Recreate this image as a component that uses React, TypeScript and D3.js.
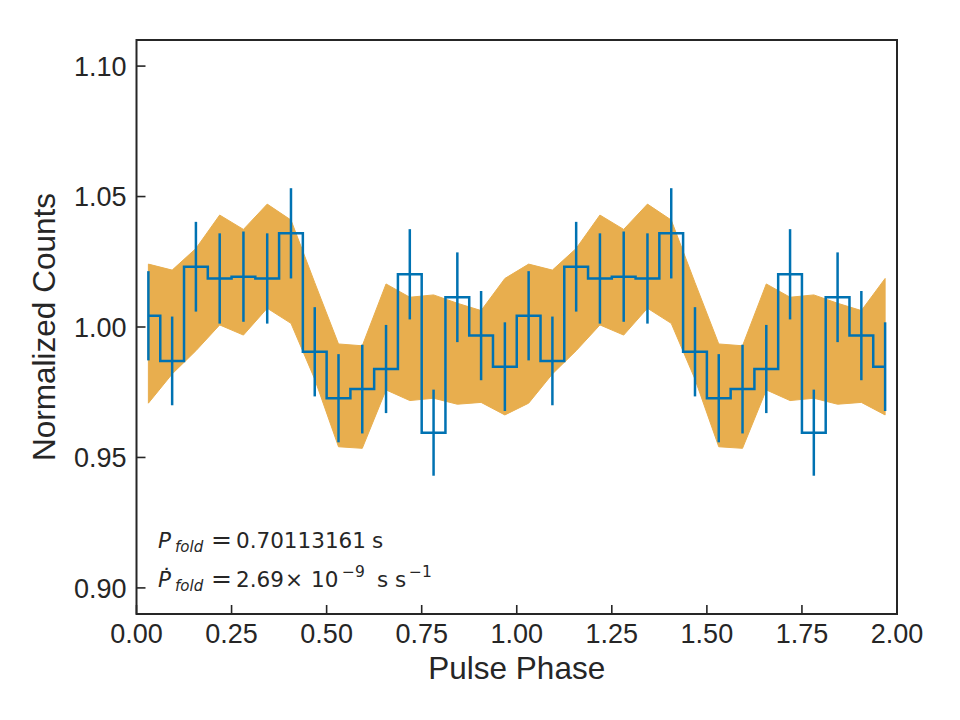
import * as d3 from 'd3';

// folded profile, 16 bins per cycle, drawn over two cycles
const phase      = [0.03125, 0.09375, 0.15625, 0.21875, 0.28125, 0.34375, 0.40625, 0.46875,
                    0.53125, 0.59375, 0.65625, 0.71875, 0.78125, 0.84375, 0.90625, 0.96875];
const counts     = [1.0043, 0.9870, 1.0231, 1.0186, 1.0193, 1.0186, 1.0359, 0.9905,
                    0.9727, 0.9762, 0.9839, 1.0202, 0.9595, 1.0114, 0.9967, 0.9848];
const countErr   = [0.0171, 0.0170, 0.0172, 0.0173, 0.0173, 0.0173, 0.0173, 0.0171,
                    0.0169, 0.0170, 0.0169, 0.0173, 0.0165, 0.0172, 0.0171, 0.0170];
const bandUpper  = [1.0241, 1.0218, 1.0301, 1.0429, 1.0374, 1.0471, 1.0410, 1.0170,
                    0.9935, 0.9928, 1.0165, 1.0114, 1.0123, 1.0091, 1.0063, 1.0186];
const bandLower  = [0.9708, 0.9820, 0.9909, 1.0008, 0.9969, 1.0072, 1.0014, 0.9800,
                    0.9541, 0.9535, 0.9759, 0.9718, 0.9727, 0.9704, 0.9711, 0.9663];
const cycles     = [0, 1];
const xTicks     = [0, 0.25, 0.5, 0.75, 1, 1.25, 1.5, 1.75, 2];
const yTicks     = [0.90, 0.95, 1.00, 1.05, 1.10];

interface Bin { x: number; y: number; err: number; hi: number; lo: number; }

const bins: Bin[] = cycles.flatMap(c =>
  phase.map((p, i) => ({ x: p + c, y: counts[i], err: countErr[i], hi: bandUpper[i], lo: bandLower[i] })));

const W = 960, H = 720;
const margin = { top: 40, right: 63, bottom: 106, left: 136.5 };
const BLUE = '#0072B2';
const ORANGE = '#E8AE4E';
const INK = '#262626';
const SANS = 'Arial, "Liberation Sans", sans-serif';
const MATH = '"DejaVu Sans", sans-serif';

export default function App() {
  const x = d3.scaleLinear().domain([0, 2]).range([margin.left, W - margin.right]);
  const y = d3.scaleLinear().domain([0.89, 1.11]).range([H - margin.bottom, margin.top]);

  const band = d3.area<Bin>()
    .x(d => x(d.x))
    .y0(d => y(d.lo))
    .y1(d => y(d.hi));

  const steps = d3.line<Bin>()
    .x(d => x(d.x))
    .y(d => y(d.y))
    .curve(d3.curveStep);

  const [x0, x1] = x.range();
  const [yb, yt] = y.range();

  return (
    <svg width={W} height={H} style={{ position: 'absolute', left: 0, top: 0, background: '#fff' }}>
      <path d={band(bins) ?? ''} fill={ORANGE} stroke={ORANGE} strokeWidth={1} />
      <path d={steps(bins) ?? ''} fill="none" stroke={BLUE} strokeWidth={2.5} />
      {bins.map((d, i) => (
        <line key={i} x1={x(d.x)} x2={x(d.x)} y1={y(d.y - d.err)} y2={y(d.y + d.err)}
          stroke={BLUE} strokeWidth={2.5} />
      ))}

      {/* frame */}
      <rect x={x0} y={yt} width={x1 - x0} height={yb - yt} fill="none" stroke={INK} strokeWidth={2} />

      {/* x ticks, inward */}
      {xTicks.map(t => (
        <g key={t}>
          <line x1={x(t)} x2={x(t)} y1={yb} y2={yb - 9} stroke={INK} strokeWidth={1.6} />
          <text x={x(t)} y={642.5} textAnchor="middle" fontFamily={SANS} fontSize={27} fill={INK}>
            {t.toFixed(2)}
          </text>
        </g>
      ))}
      {/* y ticks, inward */}
      {yTicks.map(t => (
        <g key={t}>
          <line x1={x0} x2={x0 + 9} y1={y(t)} y2={y(t)} stroke={INK} strokeWidth={1.6} />
          <text x={x0 - 10} y={y(t)} dy="0.36em" textAnchor="end" fontFamily={SANS} fontSize={27} fill={INK}>
            {t.toFixed(2)}
          </text>
        </g>
      ))}

      <text x={(x0 + x1) / 2} y={679} textAnchor="middle" fontFamily={SANS} fontSize={31.5} fill={INK}>
        Pulse Phase
      </text>
      <text transform={`translate(55,${(yt + yb) / 2}) rotate(-90)`} textAnchor="middle"
        fontFamily={SANS} fontSize={31.5} fill={INK}>
        Normalized Counts
      </text>

      {/* annotation */}
      <g fontFamily={MATH} fill={INK}>
        <text y={548} fontSize={21.5}>
          <tspan x={158} fontStyle="italic">P</tspan>
          <tspan x={175} fontStyle="italic" fontSize={15} dy={4}>fold</tspan>
          <tspan x={211} dy={-4} fontSize={25}>=</tspan>
          <tspan x={236} fontSize={21.5}>0.70113161</tspan>
          <tspan x={372}>s</tspan>
        </text>
        <text y={586.5} fontSize={21.5}>
          <tspan x={158} fontStyle="italic">{'\u1E56'}</tspan>
          <tspan x={175} fontStyle="italic" fontSize={15} dy={4}>fold</tspan>
          <tspan x={211} dy={-4} fontSize={25}>=</tspan>
          <tspan x={236} fontSize={21.5}>2.69</tspan>
          <tspan x={285}>{'\u00D7'}</tspan>
          <tspan x={311}>10</tspan>
          <tspan x={342} fontSize={15.5} dy={-10}>{'\u22129'}</tspan>
          <tspan x={377} dy={10}>s</tspan>
          <tspan x={395}>s</tspan>
          <tspan x={409} fontSize={15.5} dy={-10}>{'\u22121'}</tspan>
        </text>
      </g>
    </svg>
  );
}
